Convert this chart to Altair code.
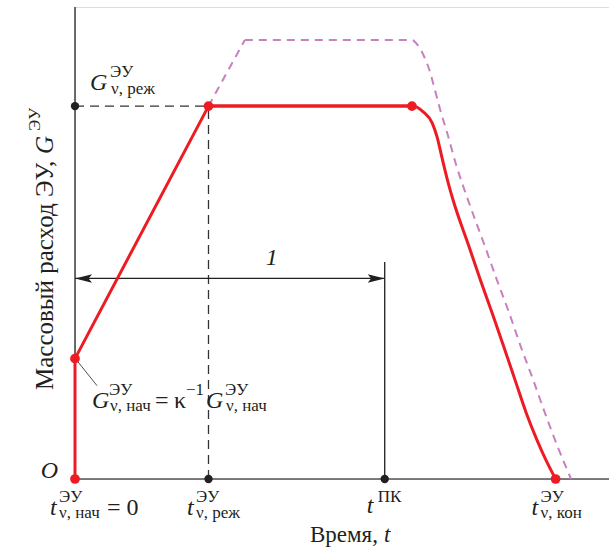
import altair as alt
import pandas as pd

# ---- key instants and levels (time 0..100, flow 0..100, arbitrary units) ----
T_START = 0.0
T_MODE = 25.0        # t_ν,реж
T_PK = 58.0          # t^ПК
T_PLATEAU_END = 63.1
T_END = 90.0         # t_ν,кон
T_MAX = 100.0

G_START = 25.5       # G_ν,нач
G_MODE = 79.0        # G_ν,реж
G_ENVELOPE = 93.0    # upper (dashed) envelope level
G_MAX = 100.0
ARROW_LEVEL = 42.5   # span marked "1"
PK_LINE_TOP = 46.0

# main (red) flow curve: start-up and plateau
red_rise_t = [0.0, 0.0, 25.0, 63.1]
red_rise_g = [0.0, 25.5, 79.0, 79.0]
# main (red) flow curve: shut-down
red_fall_t = [25.0, 63.1, 65.2, 66.9, 67.8, 68.7, 69.9, 70.8, 73.8, 75.9, 78.1, 80.3, 82.4, 84.5, 86.5, 88.2, 90.0]
red_fall_g = [79.0, 79.0, 77.8, 75.4, 72.5, 68.2, 62.7, 59.1, 49.2, 42.2, 35.2, 28.0, 21.0, 14.0, 8.3, 4.0, 0.0]

# upper envelope (dashed pink)
env_rise_t = [25.0, 31.8]
env_rise_g = [79.0, 93.0]
env_fall_t = [31.8, 63.1, 64.2, 65.5, 66.5, 67.4, 68.4, 69.7, 71.5, 73.6, 76.8, 79.0, 81.3, 83.5, 85.8, 88.0, 90.4, 92.9]
env_fall_g = [93.0, 93.0, 91.9, 89.2, 86.2, 82.4, 78.2, 73.3, 66.1, 59.1, 49.2, 42.2, 35.2, 28.0, 21.0, 14.0, 6.8, 0.0]

# marked points
red_pts_t = [0.0, 0.0, 25.0, 63.1, 90.0]
red_pts_g = [0.0, 25.5, 79.0, 79.0, 0.0]
black_pts_t = [0.0, 25.0, 58.0]
black_pts_g = [79.0, 0.0, 0.0]

# ---- styling ----
W, H = 534, 472
SERIF = "Liberation Serif, Times New Roman, DejaVu Serif, serif"
INK = "#231f20"
RED = "#ed1c24"
PINK = "#c880bf"
GUIDE = "#333333"
BIG = 24
SMALL = 17

xs = alt.Scale(domain=[0, T_MAX], nice=False, zero=False)
ys = alt.Scale(domain=[0, G_MAX], nice=False, zero=False)


def X(field="t"):
    return alt.X(f"{field}:Q", scale=xs, axis=None)


def Y(field="g"):
    return alt.Y(f"{field}:Q", scale=ys, axis=None)


def df(**cols):
    return pd.DataFrame(cols)


layers = []

# axes drawn as rules
layers.append(alt.Chart(df(t=[0.0], g=[0.0], g2=[G_MAX])).mark_rule(
    color=INK, strokeWidth=1.3).encode(x=X(), y=Y(), y2="g2:Q"))
layers.append(alt.Chart(df(t=[0.0], t2=[T_MAX], g=[0.0])).mark_rule(
    color="#555555", strokeWidth=1.6).encode(x=X(), x2="t2:Q", y=Y()))

# dashed guides to the regime point
layers.append(alt.Chart(df(t=[0.0], t2=[T_MODE], g=[G_MODE])).mark_rule(
    color=GUIDE, strokeWidth=1.3, strokeDash=[9, 6]).encode(x=X(), x2="t2:Q", y=Y()))
layers.append(alt.Chart(df(t=[T_MODE], g=[0.0], g2=[G_MODE])).mark_rule(
    color=GUIDE, strokeWidth=1.3, strokeDash=[9, 6]).encode(x=X(), y=Y(), y2="g2:Q"))

# vertical line at t^ПК
layers.append(alt.Chart(df(t=[T_PK], g=[0.0], g2=[PK_LINE_TOP])).mark_rule(
    color=INK, strokeWidth=1.3).encode(x=X(), y=Y(), y2="g2:Q"))

# double-headed span arrow "1"
layers.append(alt.Chart(df(t=[0.0], t2=[T_PK], g=[ARROW_LEVEL])).mark_rule(
    color=INK, strokeWidth=1.3).encode(x=X(), x2="t2:Q", y=Y()))
ARROW_R = "M0,0 L-2,-0.5 L-1.6,0 L-2,0.5 Z"
ARROW_L = "M0,0 L2,-0.5 L1.6,0 L2,0.5 Z"
layers.append(alt.Chart(df(t=[T_PK], g=[ARROW_LEVEL])).mark_point(
    shape=ARROW_R, size=289, filled=True, color=INK, opacity=1, strokeWidth=0).encode(x=X(), y=Y()))
layers.append(alt.Chart(df(t=[0.0], g=[ARROW_LEVEL])).mark_point(
    shape=ARROW_L, size=289, filled=True, color=INK, opacity=1, strokeWidth=0).encode(x=X(), y=Y()))

# upper envelope, dashed
layers.append(alt.Chart(df(t=env_rise_t, g=env_rise_g, o=list(range(len(env_rise_t))))).mark_line(
    color=PINK, strokeWidth=2, strokeDash=[8, 6]).encode(x=X(), y=Y(), order="o:Q"))
layers.append(alt.Chart(df(t=env_fall_t, g=env_fall_g, o=list(range(len(env_fall_t))))).mark_line(
    color=PINK, strokeWidth=2, strokeDash=[8, 6], interpolate="monotone").encode(x=X(), y=Y(), order="o:Q"))

# main flow curve
layers.append(alt.Chart(df(t=red_rise_t, g=red_rise_g, o=list(range(len(red_rise_t))))).mark_line(
    color=RED, strokeWidth=3, strokeJoin="round").encode(x=X(), y=Y(), order="o:Q"))
layers.append(alt.Chart(df(t=red_fall_t, g=red_fall_g, o=list(range(len(red_fall_t))))).mark_line(
    color=RED, strokeWidth=3, interpolate="monotone").encode(x=X(), y=Y(), order="o:Q"))

# leader from the initial point to its label
layers.append(alt.Chart(df(t=[0.0], g=[G_START])).mark_rule(
    color=INK, strokeWidth=0.8, xOffset=2, yOffset=2, x2Offset=22, y2Offset=27).encode(
    x=X(), x2="t:Q", y=Y(), y2="g:Q"))

# points
layers.append(alt.Chart(df(t=black_pts_t, g=black_pts_g)).mark_circle(
    color=INK, size=70, opacity=1).encode(x=X(), y=Y()))
layers.append(alt.Chart(df(t=red_pts_t, g=red_pts_g)).mark_circle(
    color=RED, size=95, opacity=1).encode(x=X(), y=Y()))


def label(t, g, text, dx, dy, size=BIG, italic=False, align="left"):
    return alt.Chart(df(t=[t], g=[g], s=[text])).mark_text(
        align=align, baseline="alphabetic", dx=dx, dy=dy, fontSize=size,
        fontStyle="italic" if italic else "normal", font=SERIF, color=INK
    ).encode(x=X(), y=Y(), text="s:N")


def fixed(x, y, text, size=BIG, italic=False, angle=0):
    return alt.Chart(df(s=[text])).mark_text(
        align="left", baseline="alphabetic", fontSize=size, angle=angle,
        fontStyle="italic" if italic else "normal", font=SERIF, color=INK
    ).encode(x=alt.value(x), y=alt.value(y), text="s:N")


# G_ν,реж label
layers += [
    label(0, G_MODE, "G", 15, -16, italic=True),
    label(0, G_MODE, "ЭУ", 35, -29, size=SMALL),
    label(0, G_MODE, "ν, реж", 36, -12, size=SMALL),
]
# G_ν,нач = κ^-1 G_ν,нач label
layers += [
    label(0, G_START, "G", 17, 49, italic=True),
    label(0, G_START, "ЭУ", 34, 36, size=SMALL),
    label(0, G_START, "ν, нач", 35, 52, size=SMALL),
    label(0, G_START, "=", 80, 49),
    label(0, G_START, "κ", 99, 49),
    label(0, G_START, "−1", 111, 36, size=SMALL),
    label(0, G_START, "G", 131, 49, italic=True),
    label(0, G_START, "ЭУ", 150, 36, size=SMALL),
    label(0, G_START, "ν, нач", 151, 52, size=SMALL),
]
# origin
layers.append(label(0, 0, "O", -17, -1, italic=True, align="right"))
# time marks
for t_val, sub, dx in [(T_START, "ν, нач", -25), (T_MODE, "ν, реж", -21.5), (T_END, "ν, кон", -24)]:
    layers += [
        label(t_val, 0, "t", dx, 36, italic=True),
        label(t_val, 0, "ЭУ", dx + 9, 23, size=SMALL),
        label(t_val, 0, sub, dx + 9, 39, size=SMALL),
    ]
layers.append(label(T_START, 0, "= 0", 32, 36))
layers += [
    label(T_PK, 0, "t", -18, 34, italic=True),
    label(T_PK, 0, "ПК", -7, 23, size=SMALL),
]
# span label
layers.append(label(T_PK, ARROW_LEVEL, "1", -113, -13, italic=True, align="center"))

# axis titles
layers += [
    fixed(235, 535, "Время,", size=23),
    fixed(309, 535, "t", size=23, italic=True),
    fixed(-22, 383, "Массовый расход ЭУ,", size=25, angle=270),
    fixed(-22, 147, "G", size=25, italic=True, angle=270),
    fixed(-35, 124, "ЭУ", size=SMALL, angle=270),
]

chart = alt.layer(*layers).properties(
    width=W, height=H,
    autosize=alt.AutoSizeParams(type="none"),
    padding={"left": 75, "top": 7, "right": 0, "bottom": 73},
).configure_view(stroke=None).configure(background="white")

chart.save("out.html", embed_options={"renderer": "svg", "actions": False})
